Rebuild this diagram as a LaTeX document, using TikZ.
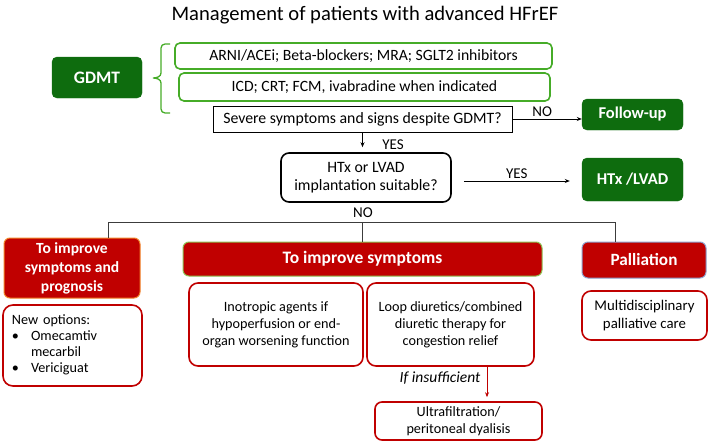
\documentclass[tikz,border=0pt]{standalone}
\usepackage{fontspec}
\setmainfont{Carlito}
\usetikzlibrary{arrows.meta}
\definecolor{dgreen}{RGB}{14,108,14}
\definecolor{lgreen}{RGB}{70,172,40}
\definecolor{dred}{RGB}{192,0,0}
\definecolor{orng}{RGB}{240,130,40}
\definecolor{pgreen}{RGB}{140,190,80}
\definecolor{pblue}{RGB}{140,160,205}
\definecolor{lgray}{RGB}{60,60,60}
\begin{document}
\begin{tikzpicture}[x=1pt,y=-1pt,
  every node/.style={font=\fontsize{14.2}{17}\selectfont, inner sep=2pt},
  greenbox/.style={draw=dgreen, fill=dgreen, rounded corners=5pt, text=white, font=\fontsize{16.5}{19}\selectfont\bfseries},
  drugbox/.style={draw=lgreen, line width=1.6pt, rounded corners=5pt, fill=white, font=\fontsize{15.7}{18}\selectfont},
  qbox/.style={draw=black, line width=0.8pt, font=\fontsize{15.8}{18}\selectfont},
  decbox/.style={draw=black, line width=1.6pt, rounded corners=8pt, align=center, font=\fontsize{15.8}{18}\selectfont},
  redhead/.style={fill=dred, rounded corners=6pt, text=white, line width=1pt, font=\fontsize{15.5}{19}\selectfont\bfseries, align=center},
  redbox/.style={draw=dred, line width=1.6pt, rounded corners=9pt, align=center, fill=white},
  conn/.style={draw=lgray, line width=0.8pt},
  arr/.style={-{Stealth[length=5pt,width=4pt]}, line width=0.8pt},
  lbl/.style={font=\fontsize{15}{18}\selectfont}
]
\useasboundingbox (0,0) rectangle (709,442);
\node (title) at (365,15) {\fontsize{20.6}{24}\selectfont Management of patients with advanced HFrEF};

\node[greenbox, minimum width=90pt, minimum height=41pt, font=\fontsize{17.5}{20}\selectfont\bfseries] (gdmt) at (97,77.5) {GDMT};
\draw[lgreen, line width=1.3pt] (170,44) -- (165,44) to[out=180,in=90] (161,48) -- (161,73)
  to[out=-90,in=0] (153,78) to[out=0,in=90] (161,83) -- (161,109) to[out=-90,in=180] (165,113) -- (170,113);

\node[drugbox, minimum width=377pt, minimum height=26pt] (b1) at (363.5,56) {ARNI/ACEi; Beta-blockers; MRA; SGLT2 inhibitors};
\node[drugbox, minimum width=371pt, minimum height=28pt] (b2) at (364.5,87) {ICD; CRT; FCM, ivabradine when indicated};
\node[qbox, minimum width=299pt, minimum height=26pt] (severe) at (362.5,119) {Severe symptoms and signs despite GDMT?};
\node[greenbox, minimum width=101pt, minimum height=31pt] (follow) at (632.5,114.5) {Follow-up};

\draw[arr] (severe.east) -- (severe.east -| follow.west) node[lbl, pos=0.43, above=0pt] {NO};

\node[decbox, minimum width=170pt, minimum height=49pt] (htx) at (366,177.5) {HTx or LVAD\\implantation suitable?};
\node[greenbox, minimum width=101pt, minimum height=43pt] (lvad) at (632.5,179.5) {HTx /LVAD};

\draw[arr, shorten >=5pt] (severe.south) -- (severe.south |- htx.north);
\node[lbl] (yes1) at (393,145) {YES};
\draw[arr, shorten <=12pt, shorten >=12pt] (htx.east |- 0,181) -- (lvad.west |- 0,181) node[lbl, midway, above=0pt] {YES};
\node[lbl] (no2) at (363,213) {NO};

\node[redhead, draw=orng, minimum width=136pt, minimum height=60pt] (h1) at (72,268) {To improve\\symptoms and\\prognosis};
\node[redhead, draw=pgreen, minimum width=359pt, minimum height=34pt, font=\fontsize{17.5}{20}\selectfont\bfseries] (h2) at (362.5,259) {To improve symptoms};
\node[redhead, draw=pblue, minimum width=124pt, minimum height=36pt, font=\fontsize{17.2}{20}\selectfont\bfseries] (h3) at (644,260) {Palliation};

\coordinate (jL) at (108,222);
\coordinate (jR) at (615,222);
\draw[conn] (h1.north -| jL) -- (jL) -- (jR) -- (h3.north -| jR);
\draw[conn] (h2.north) -- (h2.north |- jL);

\node[redbox, minimum width=139pt, minimum height=81pt, text width=121pt, align=left, rounded corners=10pt] (newopt) at (72.5,345.5)
  {\begin{tabular}{@{}l@{\hspace{12pt}}l@{}}
   \multicolumn{2}{@{}l@{}}{New options:}\\[-1pt]
   \textbullet & Omecamtiv\\[-1pt]
    & mecarbil\\[-1pt]
   \textbullet & Vericiguat
   \end{tabular}};
\node[redbox, minimum width=174pt, minimum height=83pt] (ino) at (276,324.5) {Inotropic agents if\\hypoperfusion or end-\\organ worsening function};
\node[redbox, minimum width=167pt, minimum height=83pt] (loop) at (450.5,324.5) {Loop diuretics/combined\\diuretic therapy for\\congestion relief};
\node[redbox, minimum width=167pt, minimum height=38pt, rounded corners=7pt] (ultra) at (458.5,421) {Ultrafiltration/\\peritoneal dyalisis};
\node[redbox, minimum width=125pt, minimum height=49pt, font=\fontsize{14.8}{17.5}\selectfont] (multi) at (644.5,315.5) {Multidisciplinary\\palliative care};

\coordinate (ia) at (487,380);
\draw[arr, dred, shorten >=4pt] (loop.south -| ia) -- (ultra.north -| ia);
\node[lbl, font=\fontsize{15.5}{18}\selectfont\itshape] (insuf) at (440,378) {If insufficient};
\end{tikzpicture}
\end{document}
